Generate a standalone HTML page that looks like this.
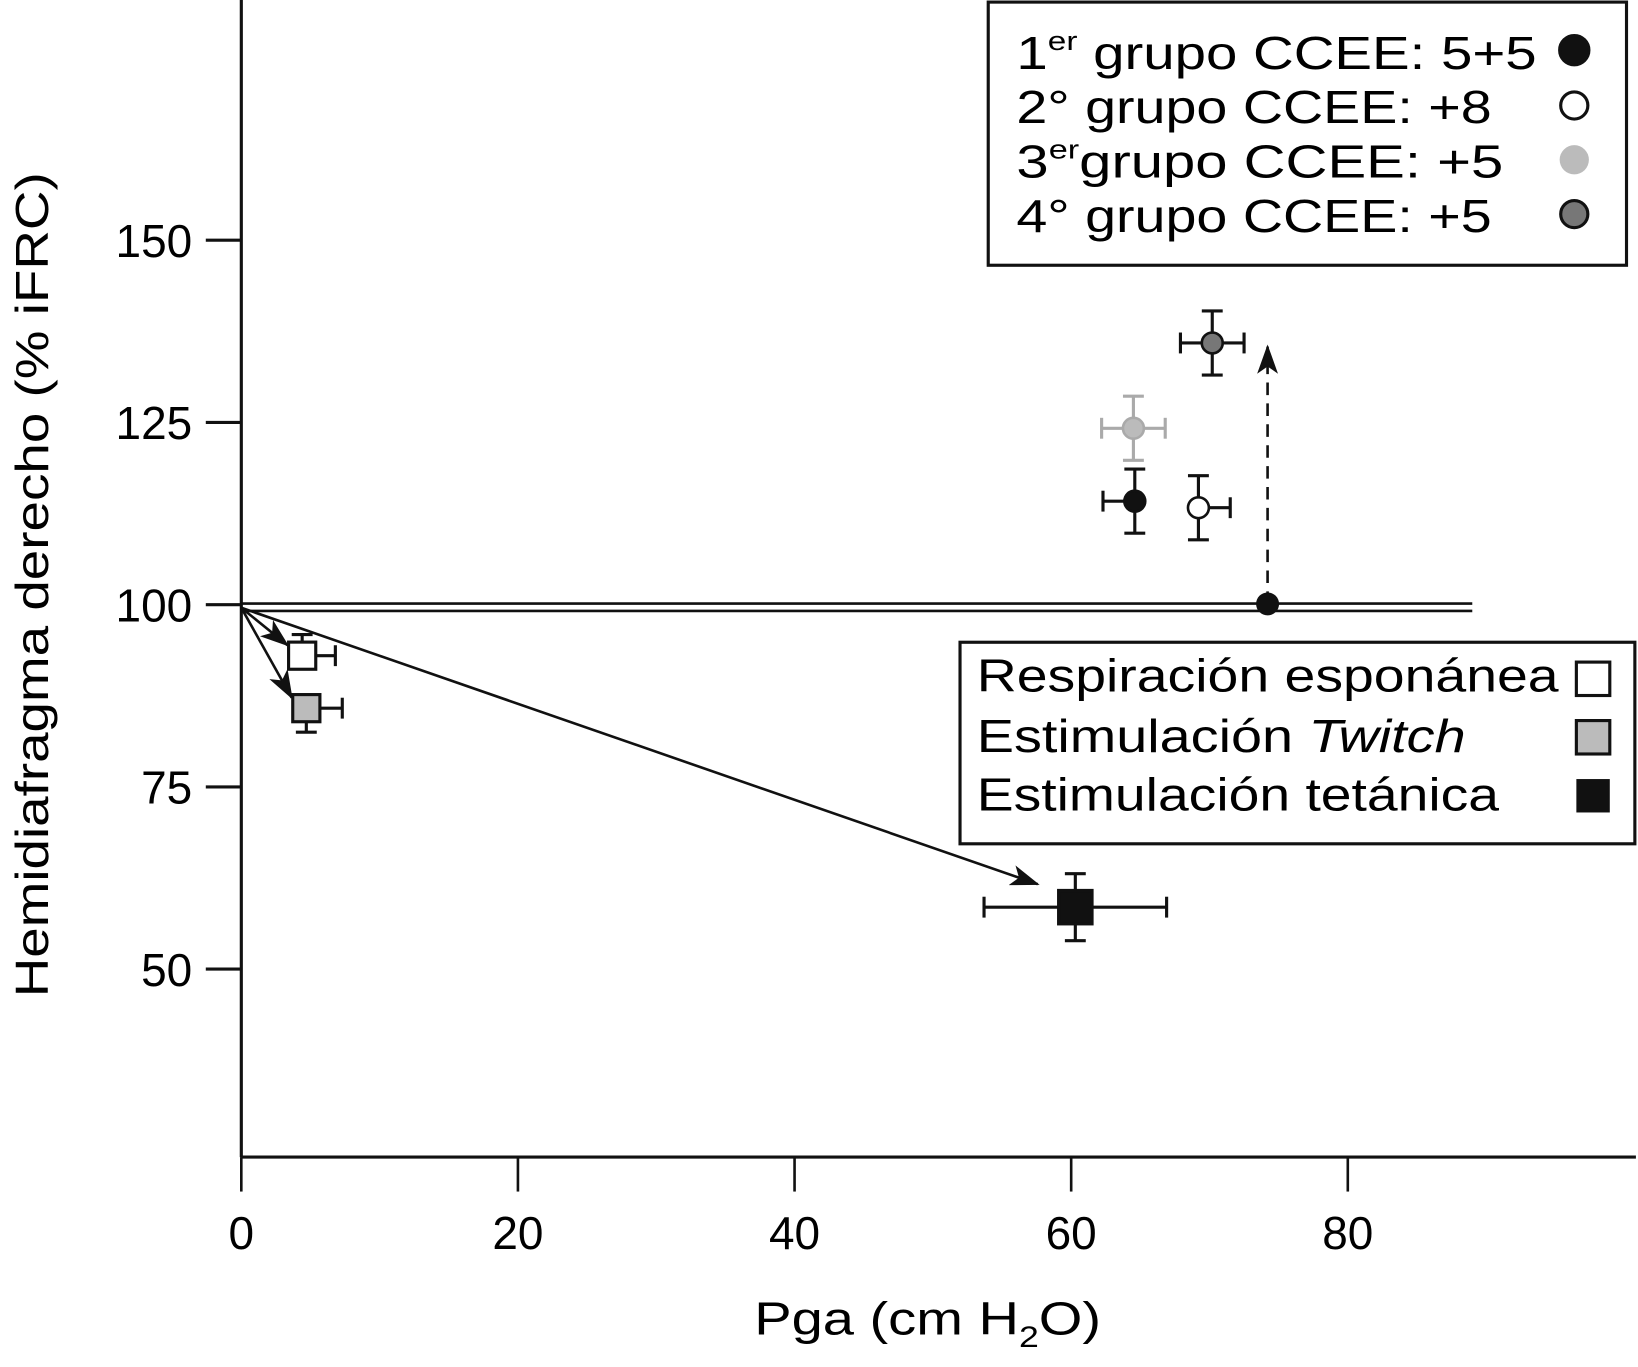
<!DOCTYPE html>
<html><head><meta charset="utf-8"><style>
html,body{margin:0;padding:0;background:#fff}
svg{display:block;font-family:"Liberation Sans",sans-serif}
</style></head><body>
<svg id="chart" width="1638" height="1367" viewBox="0 0 1568 1309" preserveAspectRatio="none" xmlns="http://www.w3.org/2000/svg">
<g id="axes"></g>
<g id="marks"></g>
<g>
<rect x="946" y="2" width="611" height="252" fill="#fff" stroke="#111" stroke-width="3"/>
<text x="973" y="66" font-size="44" textLength="498" lengthAdjust="spacingAndGlyphs">1<tspan font-size="26" dy="-18">er</tspan><tspan dy="18"> grupo CCEE: 5+5</tspan></text>
<text x="973" y="118" font-size="44" textLength="455" lengthAdjust="spacingAndGlyphs">2° grupo CCEE: +8</text>
<text x="973" y="170" font-size="44" textLength="466" lengthAdjust="spacingAndGlyphs">3<tspan font-size="26" dy="-18">er</tspan><tspan dy="18">grupo CCEE: +5</tspan></text>
<text x="973" y="222" font-size="44" textLength="455" lengthAdjust="spacingAndGlyphs">4° grupo CCEE: +5</text>
<circle cx="1507" cy="48" r="14" fill="#111" stroke="#111" stroke-width="3"/>
<circle cx="1507" cy="101" r="13" fill="#fff" stroke="#111" stroke-width="3"/>
<circle cx="1507" cy="153" r="14" fill="#bbb"/>
<circle cx="1507" cy="205" r="13" fill="#777" stroke="#111" stroke-width="3"/>
</g>
<g>
<rect x="919" y="615" width="646" height="193" fill="#fff" stroke="#111" stroke-width="3"/>
<text x="935" y="662" font-size="44" textLength="557" lengthAdjust="spacingAndGlyphs">Respiración esponánea</text>
<text x="935" y="720" font-size="44" textLength="468" lengthAdjust="spacingAndGlyphs">Estimulación <tspan font-style="italic">Twitch</tspan></text>
<text x="935" y="776" font-size="44" textLength="500" lengthAdjust="spacingAndGlyphs">Estimulación tetánica</text>
<rect x="1509" y="634" width="32" height="32" fill="#fff" stroke="#111" stroke-width="3"/>
<rect x="1509" y="690" width="32" height="32" fill="#bbb" stroke="#111" stroke-width="3"/>
<rect x="1509" y="746" width="32" height="32" fill="#111"/>
</g>
<text transform="translate(46,560) rotate(-90)" text-anchor="middle" font-size="44" textLength="790" lengthAdjust="spacingAndGlyphs">Hemidiafragma derecho (% iFRC)</text>
<text x="888" y="1278" text-anchor="middle" font-size="44" textLength="332" lengthAdjust="spacingAndGlyphs">Pga (cm H<tspan font-size="28" dy="12">2</tspan><tspan dy="-12">O)</tspan></text>
<defs><marker id="ah" markerWidth="10" markerHeight="8" refX="9" refY="4" orient="auto" markerUnits="userSpaceOnUse" viewBox="0 0 10 8"><path d="M0,0 L10,4 L0,8 L3,4z" fill="#111"/></marker>
<marker id="ah2" markerWidth="28" markerHeight="20" refX="26" refY="10" orient="auto" markerUnits="userSpaceOnUse" viewBox="0 0 28 20"><path d="M0,0 L28,10 L0,20 L7,10z" fill="#111"/></marker></defs>
</svg>
<script>
const xTicks=[0,20,40,60,80];
const yTicks=[50,75,100,125,150];
const groupNames=["g1","g2","g3","g4"];
const groupX=[64.6,69.2,64.5,70.2];
const groupY=[114.2,113.3,124.2,135.9];
const groupXErrL=[2.3,0,2.3,2.3];
const groupXErrR=[0,2.3,2.3,2.3];
const groupYErr=[4.4,4.4,4.4,4.4];
const groupFill=["#111","#fff","#bbb","#777"];
const groupStroke=["#111","#111","#aaa","#111"];
const condNames=["espontanea","twitch","tetanica"];
const condX=[4.4,4.7,60.3];
const condY=[93.0,85.8,58.5];
const condXErrL=[0,0,6.6];
const condXErrR=[2.4,2.6,6.6];
const condYErrUp=[2.9,0,4.6];
const condYErrDn=[0,3.3,4.6];
const condFill=["#fff","#bbb","#111"];
const baseX=[0,89];
const baseY=[100,100];
const dotX=[74.2], dotY=[100.1], dotTargetY=[135.4];

const sx=v=>231+v*13.24;
const sy=v=>579-(v-100)*6.98;
const NS="http://www.w3.org/2000/svg";
function el(t,a,p){const e=document.createElementNS(NS,t);for(const k in a)e.setAttribute(k,a[k]);p.appendChild(e);return e;}
const ax=document.getElementById('axes'), mk=document.getElementById('marks');
let e;
e=el('line',{x1:231,y1:0,x2:231,y2:1108,stroke:'#111','stroke-width':3},ax);


e=el('line',{x1:231,y1:1108,x2:1566,y2:1108,stroke:'#111','stroke-width':3},ax);


xTicks.forEach(t=>{
 el('line',{x1:sx(t),y1:1108,x2:sx(t),y2:1141,stroke:'#111','stroke-width':2.5},ax);
 e=el('text',{x:sx(t),y:1196,'text-anchor':'middle','font-size':44},ax);e.textContent=t;
 
 
});
yTicks.forEach(t=>{
 el('line',{x1:197,y1:sy(t),x2:231,y2:sy(t),stroke:'#111','stroke-width':3},ax);
 e=el('text',{x:184,y:sy(t)+16,'text-anchor':'end','font-size':44},ax);e.textContent=t;
 
 
});
// baseline double line
[-1,6].forEach(o=>{e=el('line',{x1:sx(baseX[0]),y1:sy(baseY[0])+o,x2:sx(baseX[1]),y2:sy(baseY[1])+o,stroke:'#111','stroke-width':2.5},mk);
 
 });
// arrows from origin
const ox=sx(0),oy=sy(100)+3;
condX.forEach((x,i)=>{
 const tx=sx(x)-(i==2?36:14), ty=sy(condY[i])-(i==2?22:10);
 e=el('line',{x1:ox,y1:oy,x2:tx,y2:ty,stroke:'#111','stroke-width':2.5,'marker-end':'url(#ah2)'},mk);
 
 
});
// dashed arrow
e=el('line',{x1:sx(dotX[0]),y1:sy(dotY[0]),x2:sx(dotX[0]),y2:sy(dotTargetY[0]),stroke:'#111','stroke-width':2.5,'stroke-dasharray':'12,8','marker-end':'url(#ah2)'},mk);


e=el('circle',{cx:sx(dotX[0]),cy:sy(dotY[0]),r:11,fill:'#111'},mk);


function errbars(x,y,xl,xr,yu,yd,col,g){
 const cx=sx(x),cy=sy(y),c=10;
 if(xl){el('line',{x1:sx(x-xl),y1:cy,x2:cx,y2:cy,stroke:col,'stroke-width':3},g);el('line',{x1:sx(x-xl),y1:cy-c,x2:sx(x-xl),y2:cy+c,stroke:col,'stroke-width':3},g);}
 if(xr){el('line',{x1:sx(x+xr),y1:cy,x2:cx,y2:cy,stroke:col,'stroke-width':3},g);el('line',{x1:sx(x+xr),y1:cy-c,x2:sx(x+xr),y2:cy+c,stroke:col,'stroke-width':3},g);}
 if(yu){el('line',{x1:cx,y1:sy(y+yu),x2:cx,y2:cy,stroke:col,'stroke-width':3},g);el('line',{x1:cx-c,y1:sy(y+yu),x2:cx+c,y2:sy(y+yu),stroke:col,'stroke-width':3},g);}
 if(yd){el('line',{x1:cx,y1:sy(y-yd),x2:cx,y2:cy,stroke:col,'stroke-width':3},g);el('line',{x1:cx-c,y1:sy(y-yd),x2:cx+c,y2:sy(y-yd),stroke:col,'stroke-width':3},g);}
}
groupX.forEach((x,i)=>{
 const g=el('g',{},mk);
 
 
 errbars(x,groupY[i],groupXErrL[i],groupXErrR[i],groupYErr[i],groupYErr[i],groupStroke[i],g);
 el('circle',{cx:sx(x),cy:sy(groupY[i]),r:10,fill:groupFill[i],stroke:groupStroke[i],'stroke-width':2.5},g);
});
condX.forEach((x,i)=>{
 const g=el('g',{},mk);
 
 
 errbars(x,condY[i],condXErrL[i],condXErrR[i],condYErrUp[i],condYErrDn[i],'#111',g);
 const s=i==2?32:26;
 el('rect',{x:sx(x)-s/2,y:sy(condY[i])-s/2,width:s,height:s,fill:condFill[i],stroke:'#111','stroke-width':3},g);
});
</script>
</body></html>
